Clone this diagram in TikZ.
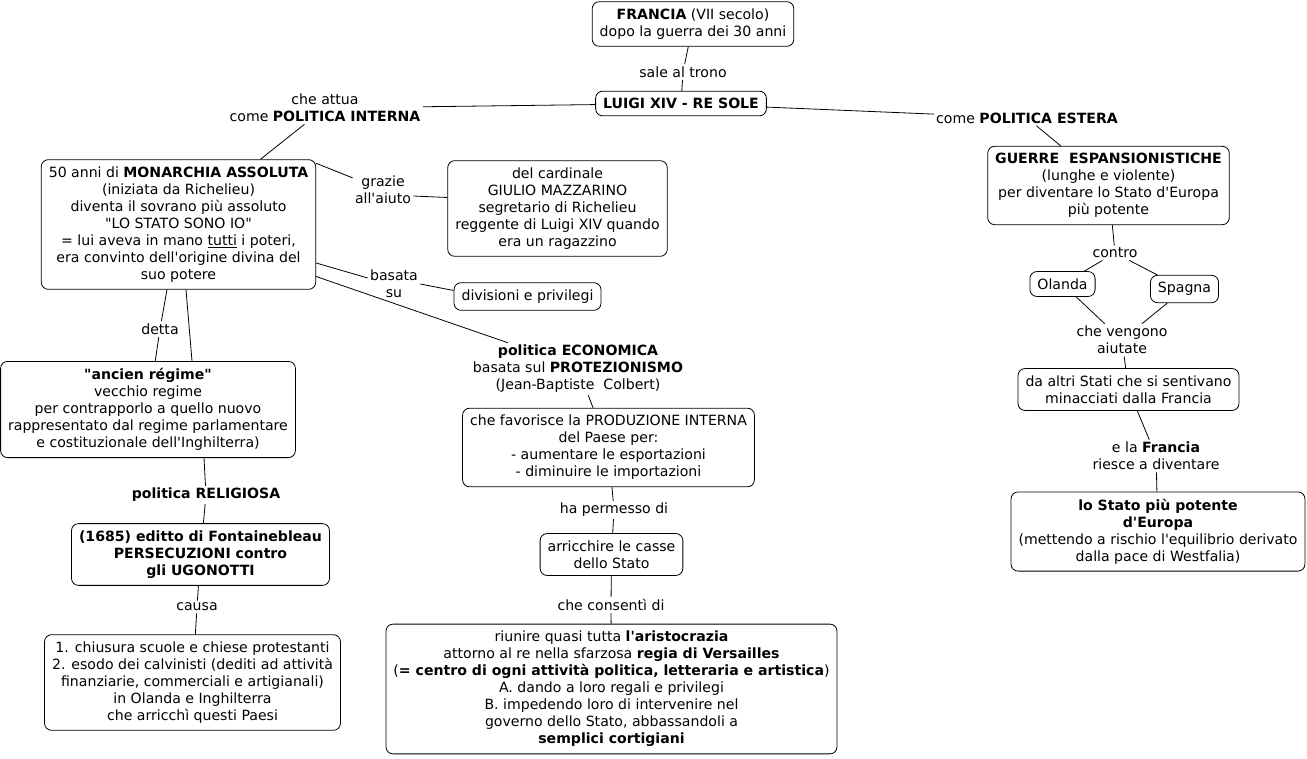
\documentclass[tikz,border=0pt]{standalone}
\usepackage{fontspec}
\setmainfont{DejaVu Sans}[Ligatures=TeXOff]
\begin{document}
\begin{tikzpicture}[x=1pt, y=-1pt, line width=0.8pt,
  box/.style={draw, rounded corners=7pt, align=center, inner xsep=7.5pt, inner ysep=7pt},
  lbl/.style={align=center, inner sep=2pt},
  every node/.append style={font=\fontsize{14.1}{17}\selectfont}]
  \useasboundingbox (0,0) rectangle (1307,758);
  % centro
  \node[box] (francia) at (693,24) {\textbf{FRANCIA} (VII secolo)\\dopo la guerra dei 30 anni};
  \node[lbl] (sale) at (683,72) {sale al trono};
  \node[box] (luigi) at (681,103.5) {\textbf{LUIGI XIV - RE SOLE}};
  \draw (francia) -- (sale);
  \draw (sale) -- (luigi);
  % politica interna
  \node[lbl] (interna) at (325,108) {che attua\\come \textbf{POLITICA INTERNA}};
  \node[box] (monarchia) at (178.5,224.5) {50 anni di \textbf{MONARCHIA ASSOLUTA}\\(iniziata da Richelieu)\\diventa il sovrano più assoluto\\"LO STATO SONO IO"\\= lui aveva in mano \underline{tutti} i poteri,\\era convinto dell'origine divina del\\suo potere};
  \node[lbl] (grazie) at (383,190) {grazie\\all'aiuto};
  \node[box] (mazzarino) at (557.5,208.5) {del cardinale\\GIULIO MAZZARINO\\segretario di Richelieu\\reggente di Luigi XIV quando\\era un ragazzino};
  \node[lbl] (basata) at (394,284) {basata\\su};
  \node[box] (divisioni) at (527.5,296.5) {divisioni e privilegi};
  \draw (luigi) -- (interna);
  \draw (interna) -- (monarchia);
  \draw ([yshift=-4pt]monarchia.north east) -- (grazie);
  \draw ([yshift=-6pt]grazie.east) -- ([yshift=11pt]mazzarino.west);
  \draw ([yshift=-38.5pt]monarchia.east) -- ([yshift=6pt]basata.west);
  \draw (basata.east) -- ([yshift=6pt]divisioni.west);
  % ancien regime e politica religiosa
  \node[lbl] (detta) at (160,329) {detta};
  \node[box] (ancien) at (148,409.5) {\textbf{"ancien régime"}\\vecchio regime\\per contrapporlo a quello nuovo\\rappresentato dal regime parlamentare\\e costituzionale dell'Inghilterra)};
  \node[lbl] (religiosa) at (206,495) {\textbf{politica RELIGIOSA}};
  \node[box] (editto) at (200.5,554.5) {\textbf{(1685) editto di Fontainebleau}\\\textbf{PERSECUZIONI contro}\\\textbf{gli UGONOTTI}};
  \node[lbl] (causa) at (197,607) {causa};
  \node[box] (chiusura) at (192.5,682.5) {1. chiusura scuole e chiese protestanti\\2. esodo dei calvinisti (dediti ad attività\\finanziarie, commerciali e artigianali)\\in Olanda e Inghilterra\\che arricchì questi Paesi};
  \draw (monarchia) -- (detta);
  \draw (detta) -- (ancien);
  \draw ([xshift=7.5pt]monarchia.south) -- ([xshift=44pt]ancien.north);
  \draw ([xshift=56pt]ancien.south) -- (religiosa);
  \draw (religiosa) -- (editto);
  \draw (editto) -- (causa);
  \draw (causa) -- (chiusura);
  % politica economica
  \node[lbl] (economica) at (578,369) {\textbf{politica ECONOMICA}\\basata sul \textbf{PROTEZIONISMO}\\(Jean-Baptiste~~Colbert)};
  \node[box] (favorisce) at (608.5,447.5) {che favorisce la PRODUZIONE INTERNA\\del Paese per:\\- aumentare le esportazioni\\- diminuire le importazioni};
  \node[lbl] (permesso) at (614,510) {ha permesso di};
  \node[box] (arricchire) at (611.5,554.5) {arricchire le casse\\dello Stato};
  \node[lbl] (consenti) at (611,605) {che consentì di};
  \node[box] (riunire) at (611.5,689) {riunire quasi tutta \textbf{l'aristocrazia}\\attorno al re nella sfarzosa \textbf{regia di Versailles}\\(\textbf{= centro di ogni attività politica, letteraria e artistica})\\A. dando a loro regali e privilegi\\B. impedendo loro di intervenire nel\\governo dello Stato, abbassandoli a\\\textbf{semplici cortigiani}};
  \draw ([yshift=-52pt]monarchia.east) -- ([xshift=-70pt]economica.north);
  \draw (economica) -- (favorisce);
  \draw (favorisce) -- (permesso);
  \draw (permesso) -- (arricchire);
  \draw (arricchire) -- (consenti);
  \draw (consenti) -- (riunire);
  % politica estera
  \node[lbl] (estera) at (1027,118) {come \textbf{POLITICA ESTERA}};
  \node[box] (guerre) at (1108.5,185.5) {\textbf{GUERRE~~ESPANSIONISTICHE}\\(lunghe e violente)\\per diventare lo Stato d'Europa\\più potente};
  \node[lbl] (contro) at (1115,253) {contro};
  \node[box] (olanda) at (1062.5,284) {Olanda};
  \node[box] (spagna) at (1184.5,289) {Spagna};
  \node[lbl] (vengono) at (1122,340) {che vengono\\aiutate};
  \node[box] (altri) at (1128.5,389.5) {da altri Stati che si sentivano\\minacciati dalla Francia};
  \node[lbl] (riesce) at (1156,456) {e la \textbf{Francia}\\riesce a diventare};
  \node[box] (potente) at (1158,531.5) {\textbf{lo Stato più potente}\\\textbf{d'Europa}\\(mettendo a rischio l'equilibrio derivato\\dalla pace di Westfalia)};
  \draw (luigi) -- (estera);
  \draw (estera) -- (guerre);
  \draw (guerre) -- (contro);
  \draw (contro) -- (olanda);
  \draw (contro) -- (spagna);
  \draw (olanda) -- (vengono);
  \draw (spagna) -- (vengono);
  \draw (vengono) -- (altri);
  \draw (altri) -- (riesce);
  \draw (riesce) -- (potente);
\end{tikzpicture}
\end{document}
